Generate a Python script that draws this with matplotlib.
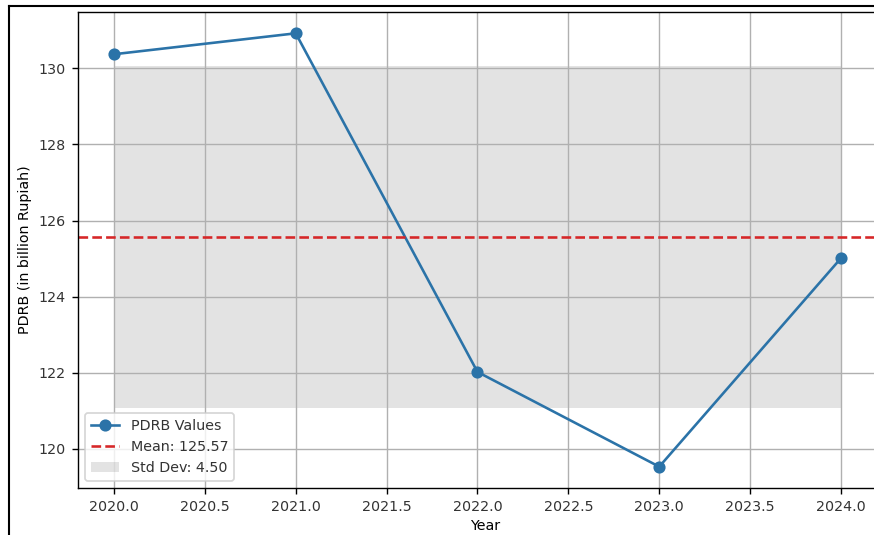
import numpy as np
import matplotlib
matplotlib.use("Agg")
import matplotlib.pyplot as plt
from matplotlib.lines import Line2D

# PDRB values
years = [2020, 2021, 2022, 2023, 2024]
pdrb = [130.37, 130.92, 122.02, 119.53, 125.01]

mean_val = 125.57
std_val = 4.50

plt.rcParams['font.size'] = 8.2
plt.rcParams['text.color'] = '#333333'
plt.rcParams['xtick.labelcolor'] = '#333333'
plt.rcParams['ytick.labelcolor'] = '#333333'

fig = plt.figure(figsize=(874 / 125, 535 / 125), dpi=125)
# the screenshot cuts the axes off before its right spine
ax = fig.add_axes([78 / 874, 47 / 535, 815 / 874, 476 / 535])

ax.plot(years, pdrb, marker='o', color='#2b73a8', label='PDRB Values')
ax.axhline(mean_val, color='#d62728', linestyle='--', label=f'Mean: {mean_val:.2f}')
ax.fill_between(years, mean_val - std_val, mean_val + std_val,
                color='gray', alpha=0.22, linewidth=0, label=f'Std Dev: {std_val:.2f}')

ax.set_xlim(2019.802, 2019.802 + 815 / 181.75)
ax.set_ylim(118.97, 131.48)
ax.set_xticks(np.arange(2020.0, 2024.01, 0.5))
ax.set_xticklabels([f'{t:.1f}' for t in np.arange(2020.0, 2024.01, 0.5)])
ax.set_xlabel('Year', labelpad=3)
ax.set_ylabel('PDRB (in billion Rupiah)')
ax.spines['right'].set_visible(False)
ax.grid(True)
ax.legend(loc='lower left')

# screenshot frame edges
fig.add_artist(Line2D([9 / 874, 9 / 874], [0, 1 - 6 / 535], color='black', lw=1.2))
fig.add_artist(Line2D([9 / 874, 1], [1 - 6 / 535, 1 - 6 / 535], color='black', lw=1.2))

fig.savefig('out.png', dpi=125)
